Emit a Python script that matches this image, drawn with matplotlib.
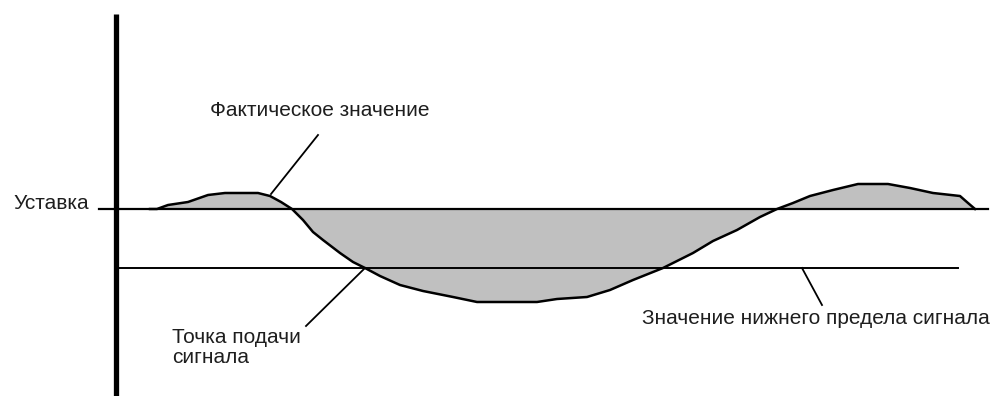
import matplotlib
matplotlib.use('Agg')
import matplotlib.pyplot as plt

# time axis positions and process value relative to the setpoint
curve_x = [150, 157, 168, 188, 208, 225, 258, 270, 281, 292, 303, 313, 323,
           340, 353, 365, 380, 400, 423, 453, 477, 537, 557, 587, 610, 633,
           663, 693, 713, 737, 760, 777, 793, 810, 833, 858, 888, 910, 933,
           960, 968, 975]
curve_y = [0, 0, 4, 7, 14, 16, 16, 13, 7, 0, -11, -23, -31,
           -44, -53, -59, -67, -76, -82, -88, -93, -93, -90, -88, -81, -71,
           -59, -44, -32, -21, -8, 0, 6, 13, 19, 25, 25, 21, 16,
           13, 6, 0]

setpoint = 0
low_limit = -58.5

setpoint_span = [99, 988]
low_limit_span = [117, 958]
axis_x = 116
axis_span = [-187, 195]

labels = ['Фактическое значение', 'Уставка', 'Точка подачи\nсигнала',
          'Значение нижнего предела сигнала']
label_pos = [(210, 99), (13, 5), (172, -138.5), (642, -109)]
leaders = [((318, 74), (271, 15)),
           None,
           ((306, -117), (365, -59)),
           ((802, -59), (822, -96))]

plt.rcParams['font.family'] = ['Liberation Sans', 'DejaVu Sans']

fig = plt.figure(figsize=(9.95, 3.96), dpi=100)
ax = fig.add_axes([0, 0, 1, 1])
ax.set_xlim(0, 995)
ax.set_ylim(-187, 209)
ax.axis('off')

# shaded deviation from the setpoint
ax.fill_between(curve_x, curve_y, setpoint, color='#c0c0c0', lw=0)

ax.plot(setpoint_span, [setpoint, setpoint], color='black', lw=1.6)
ax.plot(low_limit_span, [low_limit, low_limit], color='black', lw=1.4)
ax.plot(curve_x, curve_y, color='black', lw=1.8, solid_joinstyle='round')
ax.plot([axis_x, axis_x], axis_span, color='black', lw=3.8, solid_capstyle='butt')

for text, (tx, ty), leader in zip(labels, label_pos, leaders):
    ax.text(tx, ty, text, ha='left', va='center', fontsize=15,
            color='#1e1e1e', linespacing=1.1)
    if leader is not None:
        (x0, y0), (x1, y1) = leader
        ax.plot([x0, x1], [y0, y1], color='black', lw=1.3)

fig.savefig('out.png', dpi=100)
